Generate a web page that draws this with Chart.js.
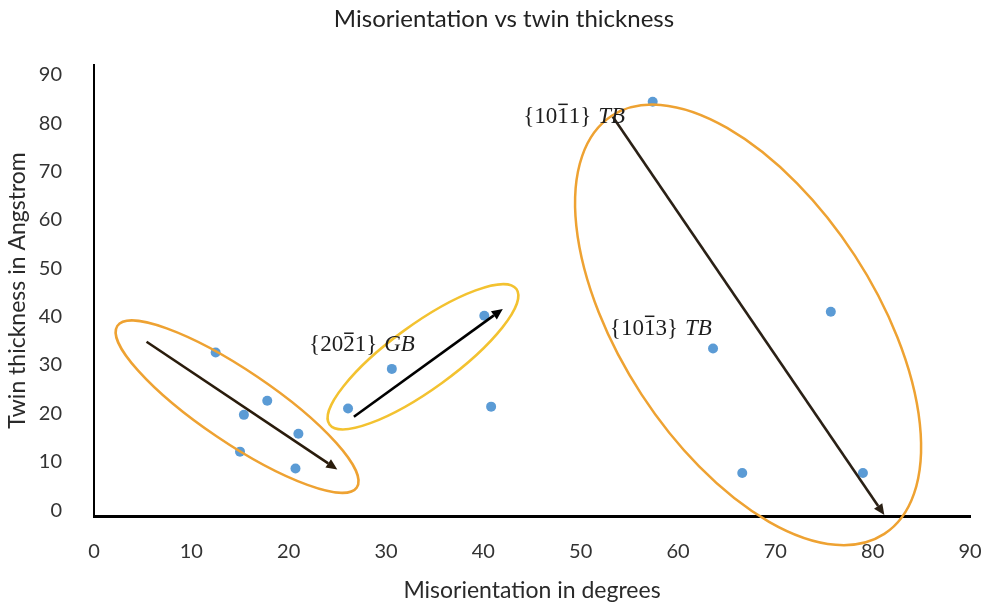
<!DOCTYPE html>
<html>
<head>
<meta charset="utf-8">
<script src="https://cdn.jsdelivr.net/npm/chart.js@4"></script>
<style>
  body{margin:0;background:#fff}
</style>
</head>
<body>
<canvas id="myChart" width="983" height="605"></canvas>
<script>
// misorientation (deg) and twin thickness (Angstrom)
var misorientation = [12.5, 15.4, 17.8, 15.0, 21.0, 20.7, 26.1, 30.6, 40.1, 40.8, 57.4, 63.6, 66.6, 75.7, 79.0]
var thickness = [32.6, 19.7, 22.6, 12.1, 15.8, 8.6, 21.0, 29.2, 40.2, 21.4, 84.4, 33.4, 7.7, 41.0, 7.7]
var xTicks = [0, 10, 20, 30, 40, 50, 60, 70, 80, 90]
var yTicks = [0, 10, 20, 30, 40, 50, 60, 70, 80, 90]
var groupNames = [
    {pre: "{20", bar: "2", post: "1}", it: "GB"},
    {pre: "{10", bar: "1", post: "1}", it: "TB"},
    {pre: "{10", bar: "1", post: "3}", it: "TB"}
]

var points = []
for (var i = 0; i < misorientation.length; i++) {
    points.push({x: misorientation[i], y: thickness[i]})
}

// annotation shapes, given in axis units and converted via the scales
var ellipses = [
    {c: [14.7, 21.4], end: [27.0, 4.7], r: 0.25, color: "#EEA232"},
    {c: [33.8, 31.7], end: [43.4, 45.7], r: 0.28, color: "#F3C230"},
    {c: [67.2, 38.3], end: [81.2, -4.9], r: 0.51, color: "#EEA232"}
]
var arrows = [
    {from: [5.4, 34.8], to: [25.0, 8.4], color: "#2a1c0c"},
    {from: [26.7, 19.3], to: [42.0, 41.6], color: "#000000"},
    {from: [53.3, 81.3], to: [81.2, -1.0], color: "#2b2116"}
]
var labelPos = [[22.1, 32.8], [44.1, 80.1], [53.0, 36.3]]

var notes = {
    id: "notes",
    afterDatasetsDraw: function (chart) {
        var ctx = chart.ctx
        var sx = chart.scales.x, sy = chart.scales.y
        function px(v) { return sx.getPixelForValue(v) }
        function py(v) { return sy.getPixelForValue(v) }
        ctx.save()

        ellipses.forEach(function (e) {
            var cx = px(e.c[0]), cy = py(e.c[1])
            var ex = px(e.end[0]), ey = py(e.end[1])
            var a = Math.hypot(ex - cx, ey - cy)
            var ang = Math.atan2(ey - cy, ex - cx)
            ctx.beginPath()
            ctx.ellipse(cx, cy, a, a * e.r, ang, 0, Math.PI * 2)
            ctx.strokeStyle = e.color
            ctx.lineWidth = 2.5
            ctx.stroke()
        })

        arrows.forEach(function (a) {
            var x1 = px(a.from[0]), y1 = py(a.from[1])
            var x2 = px(a.to[0]), y2 = py(a.to[1])
            var ang = Math.atan2(y2 - y1, x2 - x1)
            var hl = 11, hw = 5
            var bx = x2 - hl * Math.cos(ang), by = y2 - hl * Math.sin(ang)
            ctx.beginPath()
            ctx.moveTo(x1, y1)
            ctx.lineTo(bx, by)
            ctx.strokeStyle = a.color
            ctx.lineWidth = 2.6
            ctx.stroke()
            ctx.beginPath()
            ctx.moveTo(x2, y2)
            ctx.lineTo(bx + hw * Math.sin(ang), by - hw * Math.cos(ang))
            ctx.lineTo(bx - hw * Math.sin(ang), by + hw * Math.cos(ang))
            ctx.closePath()
            ctx.fillStyle = a.color
            ctx.fill()
        })

        ctx.fillStyle = "#1e1e1e"
        ctx.textBaseline = "alphabetic"
        ctx.textAlign = "left"
        groupNames.forEach(function (g, k) {
            var x = px(labelPos[k][0]), y = py(labelPos[k][1])
            ctx.font = "23px 'Liberation Serif'"
            ctx.fillText(g.pre, x, y)
            x += ctx.measureText(g.pre).width
            var bw = ctx.measureText(g.bar).width
            ctx.fillText(g.bar, x, y)
            ctx.fillRect(x + 1, y - 19, bw - 2, 1.5)
            x += bw
            ctx.fillText(g.post, x, y)
            x += ctx.measureText(g.post).width + 7
            ctx.font = "italic 23px 'Liberation Serif'"
            ctx.fillText(g.it, x, y)
        })

        ctx.font = "24px Lato"
        ctx.textAlign = "center"
        ctx.textBaseline = "middle"
        ctx.fillStyle = "#222"
        ctx.fillText("Misorientation vs twin thickness", 504, 19)
        ctx.restore()
    }
}

var myChart = new Chart("myChart", {
    type: "scatter",
    data: {
        datasets: [{
            data: points,
            backgroundColor: "#5B9BD5",
            pointRadius: 5,
            pointBorderWidth: 0
        }]
    },
    options: {
        responsive: false,
        animation: false,
        layout: {padding: {top: 65, right: 2, left: 0, bottom: 0}},
        plugins: {
            legend: {display: false},
            tooltip: {enabled: false},
            title: {display: false}
        },
        scales: {
            x: {
                type: "linear",
                min: 0,
                max: 90,
                afterBuildTicks: function (s) { s.ticks = xTicks.map(function (v) { return {value: v} }) },
                afterFit: function (s) { s.height = 89; s.paddingRight = 13; s.paddingLeft = 0 },
                grid: {display: false},
                border: {display: true, color: "#000", width: 3},
                ticks: {color: "#333", font: {family: "Lato", size: 20}, padding: 16, maxRotation: 0, autoSkip: false},
                title: {display: true, text: "Misorientation in degrees", color: "#2a2a2a", font: {family: "Lato", size: 23}, padding: {top: 0, bottom: 1}}
            },
            y: {
                min: -1.2,
                max: 92,
                afterBuildTicks: function (s) { s.ticks = yTicks.map(function (v) { return {value: v} }) },
                afterFit: function (s) { s.width = 94 },
                grid: {display: false},
                border: {display: true, color: "#000", width: 2},
                ticks: {color: "#333", font: {family: "Lato", size: 20}, padding: 24, autoSkip: false},
                title: {display: true, text: "Twin thickness in Angstrom", color: "#2a2a2a", font: {family: "Lato", size: 23}, padding: {top: 4, bottom: 0}}
            }
        }
    },
    plugins: [notes]
})
</script>
</body>
</html>
